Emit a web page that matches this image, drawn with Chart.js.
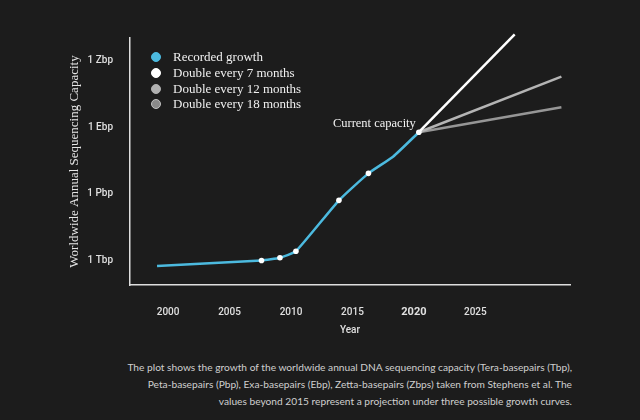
<!DOCTYPE html>
<html>
<head>
<meta charset="utf-8">
<script src="https://cdn.jsdelivr.net/npm/chart.js@4.4.1/dist/chart.umd.min.js"></script>
<style>
  body { margin: 0; background: #1c1c1c; }
  #wrap { position: relative; width: 640px; height: 420px; }
  #legend { position: absolute; left: 150px; top: 49px; font: 13px 'Liberation Serif', serif; color: #f0f0f0; }
  #legend div { height: 15.8px; line-height: 16px; position: relative; padding-left: 23px; }
  #legend span { position: absolute; left: 1px; top: 3px; width: 10px; height: 10px; border-radius: 50%; box-sizing: border-box; }
  #caption { position: absolute; right: 68px; top: 359px; text-align: right; font: 10.2px Lato, sans-serif; line-height: 17px; color: #cfcfcf; }
</style>
</head>
<body>
<div id="wrap">
  <canvas id="myChart" width="640" height="350"></canvas>
  <div id="legend"></div>
  <div id="caption">The plot shows the growth of the worldwide annual DNA sequencing capacity (Tera-basepairs (Tbp),<br>Peta-basepairs (Pbp), Exa-basepairs (Ebp), Zetta-basepairs (Zbps) taken from Stephens et al. The<br>values beyond 2015 represent a projection under three possible growth curves.</div>
</div>
<script>
// recorded growth (basepairs per year)
const years = [1999.1, 2007.6, 2009.1, 2010.4, 2013.9, 2016.3, 2018.3, 2020.4];
const capacity = [5.4e11, 9.5e11, 1.26e12, 2.5e12, 5.0e14, 8.3e15, 4.7e16, 6.0e17];
const measured = [false, true, true, true, true, true, false, true];

// projections from the current capacity
const projectionLabels = ['Double every 7 months', 'Double every 12 months', 'Double every 18 months'];
const projectionEndYears = [2028.2, 2032.0, 2032.0];
const projectionEndValues = [1.6e22, 1.95e20, 8.1e18];

const xTickYears = [2000, 2005, 2010, 2015, 2020, 2025];
const yTickValues = [1e12, 1e15, 1e18, 1e21];
const yTickLabels = ['1 Tbp', '1 Pbp', '1 Ebp', '1 Zbp'];

const blue = '#4cbadf';
const projColors = ['#ffffff', '#b4b4b4', '#969696'];
const legendFill = [blue, '#ffffff', '#b0b0b0', '#8a8a8a'];
const legendBorder = [blue, '#ffffff', '#b0b0b0', '#c0c0c0'];

const last = years.length - 1;

const datasets = [{
  label: 'Recorded growth',
  data: years.map((y, i) => ({ x: y, y: capacity[i] })),
  borderColor: blue,
  borderWidth: 2.5,
  tension: 0.15,
  pointRadius: measured.map(m => m ? 2.8 : 0),
  pointBackgroundColor: '#ffffff',
  pointBorderWidth: 0,
  order: 0
}];

projectionLabels.forEach((label, i) => {
  datasets.push({
    label: label,
    data: [{ x: years[last], y: capacity[last] }, { x: projectionEndYears[i], y: projectionEndValues[i] }],
    borderColor: projColors[i],
    borderWidth: 2.5,
    pointRadius: 0,
    clip: false,
    order: 1
  });
});

const serif = "'Liberation Serif', serif";
const sans = "Roboto, sans-serif";

const currentLabel = {
  id: 'currentLabel',
  afterDatasetsDraw(chart) {
    const p = chart.getDatasetMeta(0).data[last];
    const c = chart.ctx;
    c.save();
    c.font = '12.5px ' + serif;
    c.fillStyle = '#f2f2f2';
    c.textAlign = 'right';
    c.textBaseline = 'middle';
    c.fillText('Current capacity', p.x - 3, p.y - 9);
    c.restore();
  }
};

const ctx = document.getElementById('myChart');

new Chart(ctx, {
  type: 'line',
  data: { datasets: datasets },
  plugins: [currentLabel],
  options: {
    responsive: false,
    animation: false,
    layout: { padding: { left: 0, top: 38, right: 70, bottom: 0 } },
    plugins: { legend: { display: false }, tooltip: { enabled: false } },
    scales: {
      x: {
        type: 'linear',
        min: 1996.9,
        max: 2032.7,
        afterBuildTicks: s => { s.ticks = xTickYears.map(v => ({ value: v })); },
        afterFit: s => { s.height = 65; },
        grid: { display: false, drawTicks: false },
        border: { color: '#dddddd', width: 1.5 },
        ticks: {
          padding: 21,
          color: '#e0e0e0',
          maxRotation: 0,
          font: c => (c.tick && c.tick.value === 2020
            ? { family: sans, size: 11, weight: 'bold' }
            : { family: sans, size: 10, weight: '500' }),
          callback: v => String(v)
        },
        title: { display: true, text: 'Year', color: '#e0e0e0', font: { family: sans, size: 10, weight: '500' }, padding: { top: 0, bottom: 14 } }
      },
      y: {
        type: 'logarithmic',
        min: Math.pow(10, 10.87),
        max: Math.pow(10, 22.04),
        afterBuildTicks: s => { s.ticks = yTickValues.map(v => ({ value: v })); },
        afterFit: s => { s.width = 130; },
        grid: { display: false, drawTicks: false },
        border: { color: '#dddddd', width: 1.5 },
        ticks: {
          padding: 17,
          color: '#e0e0e0',
          font: { family: sans, size: 10, weight: '500' },
          callback: v => yTickLabels[yTickValues.indexOf(v)]
        },
        title: { display: true, text: 'Worldwide Annual Sequencing Capacity', color: '#e6e6e6', font: { family: serif, size: 13 }, padding: { top: 67, bottom: 0 } }
      }
    }
  }
});

// html legend built from the datasets
const legend = document.getElementById('legend');
datasets.forEach((d, i) => {
  const row = document.createElement('div');
  const dot = document.createElement('span');
  dot.style.background = legendFill[i];
  dot.style.border = '1.5px solid ' + legendBorder[i];
  row.appendChild(dot);
  row.appendChild(document.createTextNode(d.label));
  legend.appendChild(row);
});
</script>
</body>
</html>
